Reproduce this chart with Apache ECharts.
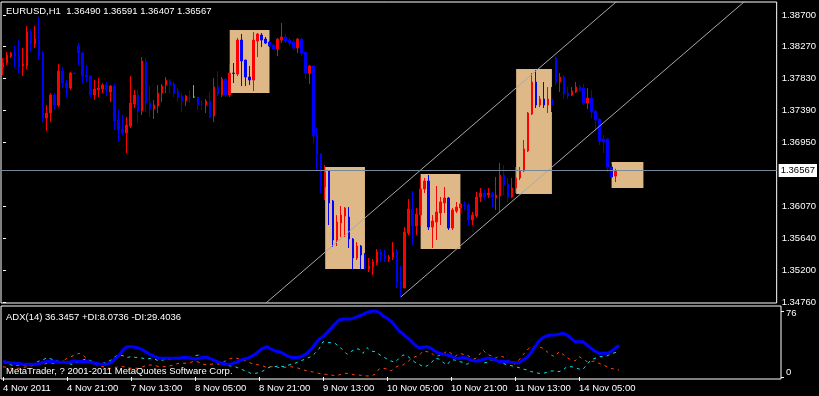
<!DOCTYPE html>
<html>
<head>
<meta charset="utf-8">
<script src="https://cdn.jsdelivr.net/npm/echarts@6/dist/echarts.min.js"></script>
<style>html,body{margin:0;background:#000;}#main{width:819px;height:396px;}</style>
</head>
<body>
<div id="main"></div>
<script>
// EURUSD H1 bars, 4 Nov 2011 05:00 .. 14 Nov 2011 15:00
var openP = [
 1.37989,1.38044,1.38140,1.38182,1.38154,1.38003,1.38003,1.38470,1.38305,1.38360,
 1.38182,1.37288,1.37357,1.37604,1.37467,1.37934,1.37769,1.37701,1.37907,1.38278,
 1.38182,1.37879,1.37866,1.37604,1.37673,1.37687,1.37742,1.37646,1.37728,1.37261,
 1.37137,1.37082,1.37178,1.37481,1.37604,1.37385,1.38058,1.37495,1.37412,1.37453,
 1.37632,1.37742,1.37797,1.37756,1.37659,1.37591,1.37522,1.37570,1.37577,1.37577,
 1.37485,1.37467,1.37522,1.37316,1.37714,1.37604,1.37824,1.37604,1.37907,1.37893,
 1.38360,1.38085,1.37852,1.37811,1.38347,1.38429,1.38374,1.38333,1.38292,1.38237,
 1.38360,1.38402,1.38360,1.38333,1.38250,1.38374,1.38195,1.37907,1.38003,1.37055,
 1.36794,1.36340,1.36560,1.36148,1.35612,1.35845,1.35942,1.35928,1.35626,1.35364,
 1.35529,1.35420,1.35213,1.35241,1.35296,1.35447,1.35392,1.35351,1.35378,1.35447,
 1.35049,1.34952,1.35708,1.36038,1.35804,1.35955,1.36313,1.36423,1.35790,1.35859,
 1.35983,1.36120,1.36189,1.35777,1.36010,1.36052,1.36093,1.36093,1.35887,1.35942,
 1.36203,1.36258,1.36230,1.36258,1.36189,1.36216,1.36505,1.36381,1.36203,1.36326,
 1.36464,1.36560,1.36835,1.37343,1.37783,1.37467,1.37550,1.37467,1.37550,1.38113,
 1.37783,1.37852,1.37632,1.37604,1.37646,1.37714,1.37701,1.37495,1.37563,1.37385,
 1.37275,1.37000,1.37000,1.36615,1.36490
];
var closeP = [
 1.38044,1.38154,1.38182,1.38140,1.37989,1.38030,1.38470,1.38305,1.38374,1.38140,
 1.37288,1.37357,1.37604,1.37467,1.37934,1.37769,1.37701,1.37907,1.37900,1.38182,
 1.37866,1.37852,1.37604,1.37687,1.37701,1.37742,1.37673,1.37728,1.37247,1.37124,
 1.37082,1.37192,1.37495,1.37604,1.37385,1.38072,1.37495,1.37412,1.37467,1.37632,
 1.37728,1.37811,1.37742,1.37632,1.37577,1.37522,1.37591,1.37563,1.37577,1.37467,
 1.37481,1.37522,1.37302,1.37714,1.37618,1.37824,1.37604,1.37907,1.37900,1.38360,
 1.38072,1.37852,1.37811,1.38360,1.38443,1.38360,1.38319,1.38278,1.38237,1.38374,
 1.38402,1.38347,1.38319,1.38250,1.38374,1.38182,1.37907,1.38003,1.37041,1.36780,
 1.36340,1.36546,1.36120,1.35612,1.35859,1.35955,1.36052,1.35626,1.35364,1.35529,
 1.35406,1.35213,1.35255,1.35309,1.35447,1.35378,1.35351,1.35378,1.35447,1.35035,
 1.34952,1.35722,1.36038,1.35804,1.35969,1.36313,1.36423,1.35790,1.35873,1.35997,
 1.36134,1.36189,1.35777,1.36024,1.36065,1.36107,1.36088,1.35887,1.35955,1.36203,
 1.36258,1.36203,1.36258,1.36203,1.36230,1.36505,1.36368,1.36203,1.36326,1.36464,
 1.36560,1.36862,1.37357,1.37783,1.37467,1.37550,1.37467,1.37550,1.37467,1.37783,
 1.37852,1.37618,1.37591,1.37659,1.37714,1.37673,1.37495,1.37563,1.37371,1.37261,
 1.36972,1.36959,1.36615,1.36477,1.36567
];
var lowP = [
 1.37879,1.38017,1.38113,1.37975,1.37907,1.37866,1.37962,1.38195,1.38250,1.38085,
 1.37233,1.37110,1.37233,1.37398,1.37440,1.37701,1.37577,1.37673,1.37893,1.38017,
 1.37769,1.37783,1.37577,1.37536,1.37577,1.37632,1.37591,1.37508,1.37124,1.36959,
 1.37055,1.36807,1.37151,1.37426,1.37220,1.37330,1.37371,1.37302,1.37275,1.37357,
 1.37508,1.37632,1.37632,1.37577,1.37508,1.37371,1.37453,1.37495,1.37563,1.37398,
 1.37398,1.37357,1.37288,1.37233,1.37591,1.37577,1.37577,1.37577,1.37769,1.37866,
 1.37728,1.37728,1.37742,1.37659,1.38127,1.38264,1.38305,1.38264,1.38223,1.38140,
 1.38319,1.38319,1.38278,1.38223,1.38182,1.38140,1.37824,1.37756,1.36945,1.36574,
 1.36258,1.36161,1.35818,1.35516,1.35529,1.35653,1.35653,1.35502,1.35213,1.35337,
 1.35213,1.35199,1.35172,1.35131,1.35268,1.35309,1.35309,1.35309,1.35337,1.34952,
 1.34828,1.34952,1.35681,1.35543,1.35681,1.35804,1.36258,1.35749,1.35502,1.35612,
 1.35818,1.35983,1.35749,1.35749,1.35983,1.35969,1.36024,1.35818,1.35818,1.35914,
 1.36134,1.36161,1.36189,1.36065,1.36024,1.35997,1.36230,1.36134,1.36189,1.36258,
 1.36436,1.36546,1.36821,1.37330,1.37426,1.37440,1.37426,1.37357,1.37371,1.37742,
 1.37646,1.37550,1.37550,1.37591,1.37632,1.37646,1.37467,1.37412,1.37288,1.37096,
 1.36917,1.36807,1.36546,1.36477,1.36407
];
var highP = [
 1.38113,1.38195,1.38195,1.38278,1.38360,1.38250,1.38553,1.38511,1.38553,1.38676,
 1.38209,1.37467,1.37632,1.37632,1.38030,1.37989,1.37811,1.37921,1.37907,1.38319,
 1.38195,1.38017,1.37879,1.37811,1.37838,1.37769,1.37783,1.37742,1.37756,1.37398,
 1.37330,1.37302,1.37866,1.37673,1.37673,1.38127,1.38113,1.37728,1.37536,1.37742,
 1.37756,1.37852,1.37824,1.37783,1.37701,1.37632,1.37604,1.37673,1.37742,1.37577,
 1.37536,1.37550,1.37646,1.37838,1.37934,1.37852,1.37838,1.38030,1.38044,1.38388,
 1.38443,1.38085,1.38003,1.38470,1.38457,1.38457,1.38402,1.38347,1.38305,1.38388,
 1.38594,1.38443,1.38388,1.38374,1.38388,1.38388,1.38195,1.38017,1.38017,1.37151,
 1.36807,1.36642,1.36574,1.36161,1.35955,1.36079,1.36065,1.36065,1.35639,1.35584,
 1.35543,1.35433,1.35364,1.35351,1.35488,1.35488,1.35475,1.35406,1.35584,1.35488,
 1.35255,1.35790,1.36175,1.36285,1.36052,1.36464,1.36464,1.36505,1.35955,1.36354,
 1.36203,1.36340,1.36203,1.36052,1.36134,1.36120,1.36148,1.36120,1.35997,1.36271,
 1.36326,1.36299,1.36326,1.36271,1.36477,1.36670,1.36642,1.36464,1.36464,1.36615,
 1.36615,1.36986,1.37371,1.37907,1.37948,1.37591,1.37783,1.37714,1.37714,1.38140,
 1.37907,1.37879,1.37714,1.37714,1.37783,1.37742,1.37756,1.37701,1.37673,1.37398,
 1.37288,1.37055,1.37014,1.36656,1.36591
];

// ADX(14)
var adx = [
 17.7,16.9,16.5,15.8,15.4,14.6,14.6,14.6,14.6,15.4,
 16.9,17.7,17.7,17.7,16.9,16.9,16.5,17.7,18.4,17.7,
 17.7,17.7,16.9,15.8,15.0,14.6,14.6,16.9,20.7,24.5,
 31.1,34.9,34.9,34.1,33.0,31.1,28.0,25.3,23.4,21.5,
 21.5,21.5,21.5,21.5,21.5,22.3,22.3,21.5,20.7,21.5,
 22.6,22.6,20.7,18.8,16.9,15.4,14.6,15.0,16.5,18.4,
 20.3,21.5,23.4,26.1,29.9,33.0,34.9,32.2,29.9,29.1,
 27.2,24.5,22.6,22.3,22.6,24.5,27.2,31.8,37.6,43.3,
 46.4,51.0,55.9,60.9,65.5,66.7,66.7,66.7,68.2,70.1,
 72.0,74.3,75.5,76.0,74.3,70.5,67.4,64.4,59.0,52.9,
 49.4,45.6,41.4,36.8,33.7,34.1,34.9,33.0,29.9,27.2,
 26.1,25.3,24.2,21.5,21.5,22.3,21.5,19.6,18.4,18.4,
 20.3,21.5,21.5,19.6,17.7,17.7,17.7,16.9,16.5,16.5,
 19.6,22.3,28.0,34.9,41.4,45.2,47.5,48.3,48.3,49.1,
 50.2,48.3,44.5,40.6,40.6,40.6,36.8,33.0,29.9,27.2,
 27.2,27.2,29.1,33.0,36.3
];
var plusDI = [
 11.9,10.8,10.0,10.0,10.0,10.8,11.9,12.7,13.8,14.6,
 14.6,15.8,15.8,15.8,16.9,18.4,21.5,23.4,25.3,27.2,
 25.3,20.7,16.9,14.6,13.1,11.9,10.0,10.0,10.8,11.9,
 11.9,10.8,10.0,10.0,10.0,11.9,13.8,13.8,13.1,11.9,
 11.9,11.9,13.1,14.6,15.8,15.8,15.8,16.9,18.4,16.9,
 14.6,13.8,14.6,15.8,14.6,16.9,19.6,21.5,22.3,20.7,
 19.6,17.7,15.8,14.6,13.8,12.7,10.8,11.9,11.9,10.8,
 10.8,11.5,11.9,10.8,10.0,8.5,6.9,6.2,5.4,4.2,
 3.1,3.1,2.3,1.6,2.3,4.2,4.2,3.5,2.3,2.3,
 1.6,1.2,1.2,3.1,9.2,10.0,9.2,6.9,10.8,13.1,
 13.8,16.9,20.7,23.4,24.5,29.9,29.1,28.4,23.4,24.5,
 26.1,29.9,27.2,23.4,27.2,26.1,25.3,22.3,20.7,25.3,
 31.1,26.1,24.5,21.5,23.4,23.4,19.6,16.9,14.6,19.6,
 25.3,31.1,34.9,34.9,34.9,33.0,29.1,25.3,23.4,29.1,
 26.1,22.3,19.6,18.4,23.4,20.7,17.7,17.7,18.4,15.8,
 13.8,11.9,10.0,8.8,8.07
];
var minusDI = [
 16.9,15.8,13.8,13.1,13.8,13.1,13.8,14.6,15.8,18.4,
 19.6,22.3,20.7,19.6,17.7,18.4,16.9,14.6,15.8,17.7,
 19.6,20.7,18.4,16.9,14.6,15.8,16.9,19.6,23.4,25.3,
 24.5,22.3,23.4,22.6,22.3,21.5,20.7,21.5,20.3,18.4,
 19.6,20.3,20.7,22.3,22.6,23.4,23.0,22.3,24.5,25.3,
 23.4,22.3,20.7,18.4,16.9,14.6,13.1,12.7,11.9,10.0,
 8.1,6.2,4.2,4.2,5.0,6.9,10.0,11.9,11.9,13.1,
 11.9,13.1,14.6,15.8,17.7,19.6,21.5,23.4,27.2,32.2,
 40.6,39.5,39.5,38.7,34.9,31.1,26.1,29.1,32.2,32.2,
 27.2,33.7,29.9,29.1,26.1,23.4,20.7,18.4,16.9,21.5,
 25.3,24.5,20.7,16.9,14.6,11.9,12.7,15.8,21.5,20.7,
 16.9,13.8,19.6,19.6,17.7,16.9,14.6,17.7,20.7,19.6,
 15.8,16.9,19.6,20.3,18.4,15.8,13.8,13.1,11.9,10.8,
 9.2,8.1,6.2,5.4,4.2,4.2,5.4,6.9,6.9,6.2,
 8.1,11.9,11.9,10.8,9.2,8.8,14.6,19.6,21.5,23.4,
 23.4,24.2,26.5,28.0,29.4
];

var priceTicks = [1.34760, 1.35200, 1.35640, 1.36070, 1.36950, 1.37390, 1.37830, 1.38270, 1.38700];
var adxTickTop = [76];
var adxTickBottom = [0];

// drawn rectangles: [bar from, price top, bar to, price bottom]
var boxes = [
  [57, 1.38498, 67, 1.37632],
  [81, 1.36615, 91, 1.35213],
  [105, 1.36519, 115, 1.35488],
  [129, 1.37962, 138, 1.36244],
  [153, 1.36684, 161, 1.36326]
];
// trend lines (bar index, price)
var trendA = [[66, 1.34741], [160, 1.39159]];
var trendB = [[100, 1.34828], [190, 1.39058]];

// hourly bar times, weekend skipped
var days = [[4, 5, 23], [7, 0, 23], [8, 0, 23], [9, 0, 23], [10, 0, 23], [11, 0, 23], [14, 0, 23], [15, 0, 23], [16, 0, 23]];
var cats = [];
days.forEach(function (d) {
  for (var h = d[1]; h <= d[2]; h++) cats.push(d[0] + ' Nov ' + (h < 10 ? '0' : '') + h + ':00');
});
cats[0] = '4 Nov 2011';
cats = cats.slice(0, 195);
var nBars = openP.length;
var lastClose = closeP[nBars - 1];

var candles = openP.map(function (o, i) {
  var item = { value: [o, closeP[i], lowP[i], highP[i]] };
  if (o === closeP[i]) item.itemStyle = { color: '#00FF00', borderColor: '#00FF00', borderColorDoji: '#00FF00' };
  return item;
});

var FONT = 'Liberation Sans';
var showIdx = function (idx) { return idx % 16 === 0 && idx < nBars; };

var myChart = echarts.init(document.getElementById('main'));
var option = {
  backgroundColor: '#000',
  animation: false,
  textStyle: { fontFamily: FONT, fontSize: 9.5, color: '#fff' },
  grid: [
    { left: 1, top: 2, width: 780, height: 301, show: true, borderColor: '#fff', borderWidth: 1 },
    { left: 1, top: 306, width: 780, height: 73, show: true, borderColor: '#fff', borderWidth: 1 }
  ],
  xAxis: [
    { type: 'category', gridIndex: 0, data: cats, boundaryGap: true,
      axisLine: { show: false }, axisTick: { show: false }, axisLabel: { show: false } },
    { type: 'category', gridIndex: 1, data: cats, boundaryGap: true,
      axisLine: { show: false },
      axisTick: { show: true, alignWithLabel: true, length: 4, lineStyle: { color: '#fff' },
        interval: function (idx) { return showIdx(idx); } },
      axisLabel: { color: '#fff', fontFamily: FONT, fontSize: 9.5, align: 'left', margin: 4,
        interval: function (idx) { return showIdx(idx); } } },
    { type: 'value', gridIndex: 0, min: -0.5, max: 194.5, show: false }
  ],
  yAxis: [
    { type: 'value', gridIndex: 0, position: 'right', min: 1.34746, max: 1.38883,
      splitLine: { show: false }, axisLine: { show: false },
      axisTick: { show: true, length: 3, customValues: priceTicks, lineStyle: { color: '#fff' } },
      axisLabel: { color: '#fff', fontFamily: FONT, fontSize: 9.5, margin: 5, customValues: priceTicks,
        formatter: function (v) { return v.toFixed(5); } } },
    { type: 'value', gridIndex: 1, position: 'right', min: -2.3, max: 81.6,
      splitLine: { show: false }, axisLine: { show: false },
      axisTick: { show: true, length: 3, customValues: adxTickTop, lineStyle: { color: '#fff' } },
      axisLabel: { color: '#fff', fontFamily: FONT, fontSize: 9.5, margin: 5, customValues: adxTickTop,
        verticalAlign: 'top', lineHeight: 6 } },
    { type: 'value', gridIndex: 1, position: 'right', min: -2.3, max: 81.6,
      splitLine: { show: false }, axisLine: { show: false },
      axisTick: { show: true, length: 3, customValues: adxTickBottom, lineStyle: { color: '#fff' } },
      axisLabel: { color: '#fff', fontFamily: FONT, fontSize: 9.5, margin: 5, customValues: adxTickBottom,
        verticalAlign: 'bottom', lineHeight: 10 } }
  ],
  series: [
    {
      type: 'candlestick', xAxisIndex: 0, yAxisIndex: 0, data: candles,
      barWidth: 2, z: 3,
      itemStyle: { color: '#FF0000', color0: '#0000FF', borderColor: '#FF0000', borderColor0: '#0000FF', borderWidth: 1 },
      markArea: {
        silent: true,
        itemStyle: { color: '#DEB887' },
        data: boxes.map(function (b) { return [{ xAxis: b[0], yAxis: b[1] }, { xAxis: b[2], yAxis: b[3] }]; })
      }
    },
    { type: 'line', xAxisIndex: 2, yAxisIndex: 0, data: trendA, symbol: 'none', silent: true, z: 4,
      lineStyle: { color: '#A9A9A9', width: 1 },
      markLine: {
        silent: true, symbol: 'none', precision: 5,
        lineStyle: { color: '#778899', type: 'solid', width: 1 },
        label: { position: 'end', distance: 2, formatter: lastClose.toFixed(5),
          backgroundColor: '#fff', color: '#000', padding: [2, 2, 1, 2], fontFamily: FONT, fontSize: 9.5 },
        data: [{ yAxis: lastClose }]
      } },
    { type: 'line', xAxisIndex: 2, yAxisIndex: 0, data: trendB, symbol: 'none', silent: true, z: 4,
      lineStyle: { color: '#A9A9A9', width: 1 } },
    { type: 'line', xAxisIndex: 1, yAxisIndex: 2, data: plusDI, showSymbol: false, silent: true,
      lineStyle: { color: '#FF4500', width: 1, type: [3, 4] } },
    { type: 'line', xAxisIndex: 1, yAxisIndex: 2, data: minusDI, showSymbol: false, silent: true,
      lineStyle: { color: '#00E5E5', width: 1, type: [3, 4] } },
    { type: 'line', xAxisIndex: 1, yAxisIndex: 2, data: adx, showSymbol: false, silent: true,
      lineStyle: { color: '#0000FF', width: 3 } }
  ],
  graphic: [
    { type: 'text', left: 6, top: 6, z: 100, silent: true,
      style: { text: 'EURUSD,H1  1.36490 1.36591 1.36407 1.36567', fill: '#fff', font: '9.5px "' + FONT + '"' } },
    { type: 'text', left: 6, top: 312, z: 100, silent: true,
      style: { text: 'ADX(14) 36.3457 +DI:8.0736 -DI:29.4036', fill: '#fff', font: '9.5px "' + FONT + '"' } },
    { type: 'text', left: 6, top: 366, z: 100, silent: true,
      style: { text: 'MetaTrader, ? 2001-2011 MetaQuotes Software Corp.', fill: '#fff', font: '9.5px "' + FONT + '"' } }
  ]
};
myChart.setOption(option);
</script>
</body>
</html>
